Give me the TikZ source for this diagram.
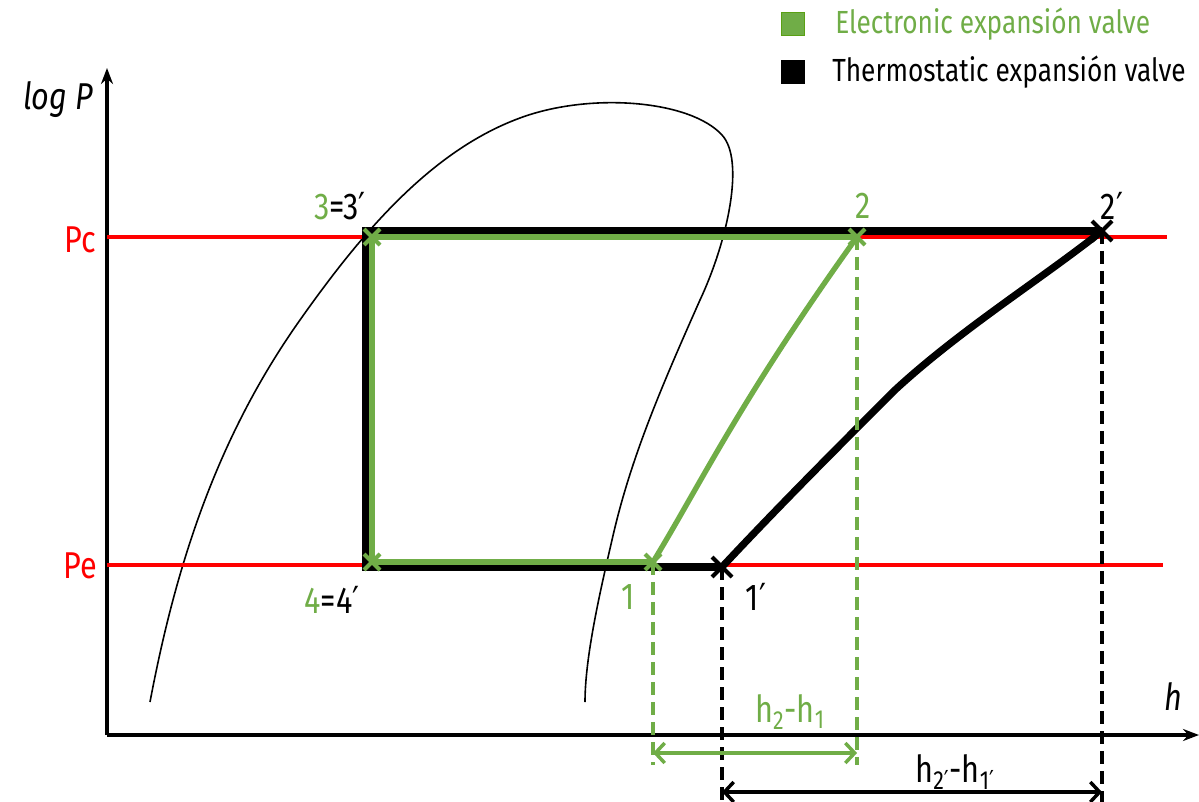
\documentclass[tikz,border=0pt]{standalone}
\usepackage{fontspec}
\setmainfont{Fira Sans}[FakeStretch=0.82]
\newfontfamily\primefont{DejaVu Sans}[FakeStretch=0.82]
\newcommand{\prm}{{\primefont ′}}
\usetikzlibrary{arrows.meta}
\definecolor{egreen}{RGB}{112,173,71}
\definecolor{egreendk}{RGB}{90,160,20}
\begin{document}
\begin{tikzpicture}[x=0.75pt,y=-0.75pt,
  axis/.style={line width=2.4pt,-{Stealth[length=12pt,width=9pt]}},
  pline/.style={red,line width=2.4pt},
  blk/.style={black,line width=5.4pt},
  grn/.style={egreen,line width=4pt},
  thin/.style={line width=1.2pt},
  gdash/.style={egreen,line width=2.4pt,dash pattern=on 10pt off 5pt},
  bdash/.style={black,line width=2.4pt,dash pattern=on 10pt off 5pt},
  lbl/.style={font=\fontsize{28}{32}\selectfont,inner sep=1pt},
  leg/.style={font=\fontsize{24}{28}\selectfont,anchor=west,inner sep=0pt},
  dimg/.style={egreen,line width=2.6pt,{Straight Barb[length=7pt,width=15pt]}-{Straight Barb[length=7pt,width=15pt]}},
  dimb/.style={black,line width=2.6pt,{Straight Barb[length=7pt,width=15pt]}-{Straight Barb[length=7pt,width=15pt]}},
  xg/.style={egreen,line width=3pt},
  xb/.style={black,line width=3pt}]
\useasboundingbox (0,0) rectangle (1199,802);
% axes
\coordinate (O) at (107,735);
\coordinate (Ytop) at (107,68);
\coordinate (Xend) at (1199,735);
\draw[axis] (O) -- (Ytop);
\draw[axis] (O) -- (Xend);
\node[lbl,font=\fontsize{28}{32}\selectfont\itshape] (logP) at (58,100) {log P};
\node[lbl,font=\fontsize{28}{32}\selectfont\itshape] (hax) at (1173,697) {h};
% saturation dome
\draw[thin] (150,702) .. controls (175,570) and (215,440) .. (300,320)
  .. controls (360,235) and (430,151) .. (520,118)
  .. controls (590,92) and (690,100) .. (722,135)
  .. controls (745,160) and (728,240) .. (700,300)
  .. controls (660,390) and (630,460) .. (612,540)
  .. controls (598,600) and (585,660) .. (585,702);
% pressure lines
\coordinate (PcL) at (107,237); \coordinate (PcR) at (1167,237);
\coordinate (PeL) at (107,565); \coordinate (PeR) at (1163,565);
\draw[pline] (PcL) -- (PcR);
\draw[pline] (PeL) -- (PeR);
\node[lbl,red] (Pc) at (80,240) {Pc};
\node[lbl,red] (Pe) at (80,566) {Pe};
% black cycle
\coordinate (b3) at (366,231);
\coordinate (b4) at (366,567);
\coordinate (b1) at (722,567);
\coordinate (b2) at (1102,231);
\draw[blk,line join=miter] (b1) -- (b4) -- (b3) -- (b2);
\draw[blk] (b1) .. controls (780,505) and (840,445) .. (895,390)
  .. controls (960,330) and (1040,280) .. (b2);
% green cycle
\coordinate (g3) at (372,237);
\coordinate (g4) at (372,562);
\coordinate (g1) at (653,562);
\coordinate (g2) at (857,237);
\draw[grn,line join=miter] (g1) -- (g4) -- (g3) -- (g2);
\draw[grn] (g1) .. controls (700,485) and (740,400) .. (g2);
% markers
\foreach \p in {g3,g4,g1,g2}{
  \draw[xg] ([shift={(-8,-8)}]\p) -- ([shift={(8,8)}]\p);
  \draw[xg] ([shift={(-8,8)}]\p) -- ([shift={(8,-8)}]\p);}
\foreach \p in {b1,b2}{
  \draw[xb] ([shift={(-10,-10)}]\p) -- ([shift={(10,10)}]\p);
  \draw[xb] ([shift={(-10,10)}]\p) -- ([shift={(10,-10)}]\p);}
% dashed drops
\coordinate (g1d) at (653,765); \coordinate (g2d) at (857,765);
\coordinate (b1d) at (722,802); \coordinate (b2d) at (1102,802);
\draw[gdash] (g1) -- (g1d);
\draw[gdash] (g2) -- (g2d);
\draw[bdash] (b1) -- (b1d);
\draw[bdash] (b2) -- (b2d);
% dimension arrows
\coordinate (ga) at (653,753); \coordinate (gb) at (857,753);
\coordinate (ba) at (722,792); \coordinate (bb) at (1102,792);
\draw[dimg] (ga) -- (gb);
\draw[dimb] (ba) -- (bb);
\node[lbl,egreen] (dh) at (790,712) {h\textsubscript{2}-h\textsubscript{1}};
\node[lbl] (dhp) at (955,772) {h\textsubscript{2\prm}-h\textsubscript{1\prm}};
% point labels
\node[lbl] (l3) at (340,206) {\textcolor{egreen}{3}=3\prm};
\node[lbl] (l4) at (332,600) {\textcolor{egreen}{4}=4\prm};
\node[lbl,egreen] (l1) at (628,597) {1};
\node[lbl] (l1p) at (756,597) {1\prm};
\node[lbl,egreen] (l2) at (863,206) {2};
\node[lbl] (l2p) at (1112,206) {2\prm};
% legend
\node[fill=egreen,draw=egreendk,line width=1.2pt,minimum size=17pt,inner sep=0pt] (sqg) at (793,24) {};
\node[fill=black,minimum size=18pt,inner sep=0pt] (sqb) at (793,72) {};
\node[leg,egreen] (tg) at (835,24) {Electronic expansión valve};
\node[leg] (tb) at (832,72) {Thermostatic expansión valve};
\end{tikzpicture}
\end{document}
